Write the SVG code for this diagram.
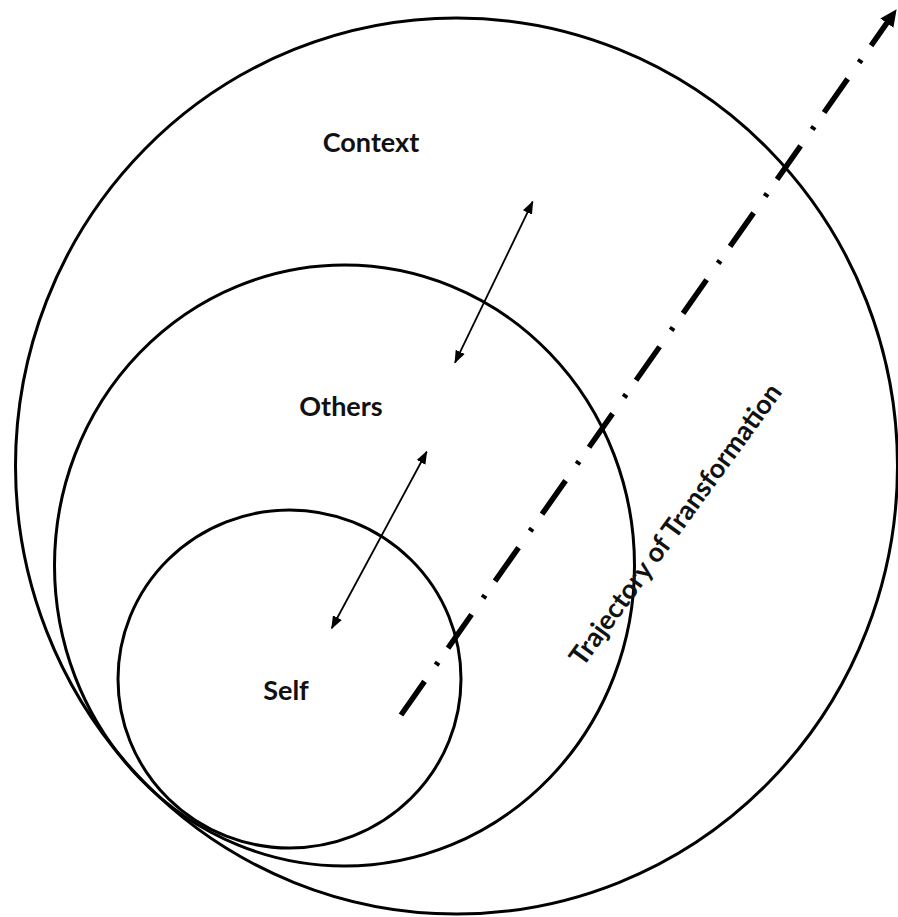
<svg xmlns="http://www.w3.org/2000/svg" width="898" height="917" viewBox="0 0 898 917">
<style>
.ring{fill:none;stroke:#000;stroke-width:3}
.lbl{font-family:Lato,"Open Sans","Liberation Sans",sans-serif;font-weight:bold;font-size:27px;fill:#111;text-anchor:middle}
.thin{fill:none;stroke:#000;stroke-width:1.8}
.traj{fill:none;stroke:#000;stroke-width:5.5;stroke-dasharray:41 20 3.5 17.3}
</style>
<defs>
<marker id="ah" markerUnits="userSpaceOnUse" markerWidth="14" markerHeight="12" refX="12" refY="5" orient="auto-start-reverse" viewBox="0 0 14 10">
<path d="M0,0 L13,5 L0,10 z" fill="#000"/>
</marker>
<marker id="big" markerUnits="userSpaceOnUse" markerWidth="20" markerHeight="18" refX="6" refY="8" orient="auto" viewBox="0 0 20 16">
<path d="M0,0 L17,8 L0,16 z" fill="#000"/>
</marker>
</defs>
<rect width="898" height="917" fill="#fff"/>
<g id="context">
<ellipse class="ring" cx="456.5" cy="466" rx="441" ry="448"/>
<text class="lbl" x="371" y="152">Context</text>
</g>
<g id="others">
<ellipse class="ring" cx="344.5" cy="565.5" rx="290" ry="300.5"/>
<text class="lbl" x="341" y="416">Others</text>
</g>
<g id="self">
<ellipse class="ring" cx="289.5" cy="679" rx="171.5" ry="169"/>
<text class="lbl" x="286" y="700">Self</text>
</g>
<g id="connectors">
<line class="thin" x1="532.7" y1="201.7" x2="455" y2="362.7" marker-start="url(#ah)" marker-end="url(#ah)"/>
<line class="thin" x1="426.7" y1="451.7" x2="331.7" y2="628.3" marker-start="url(#ah)" marker-end="url(#ah)"/>
<line class="traj" x1="401" y1="715" x2="890.3" y2="18.2" marker-end="url(#big)"/>
</g>
<g id="trajectory-label">
<text class="lbl" transform="translate(683,530) rotate(-54)">Trajectory of Transformation</text>
</g>
</svg>
